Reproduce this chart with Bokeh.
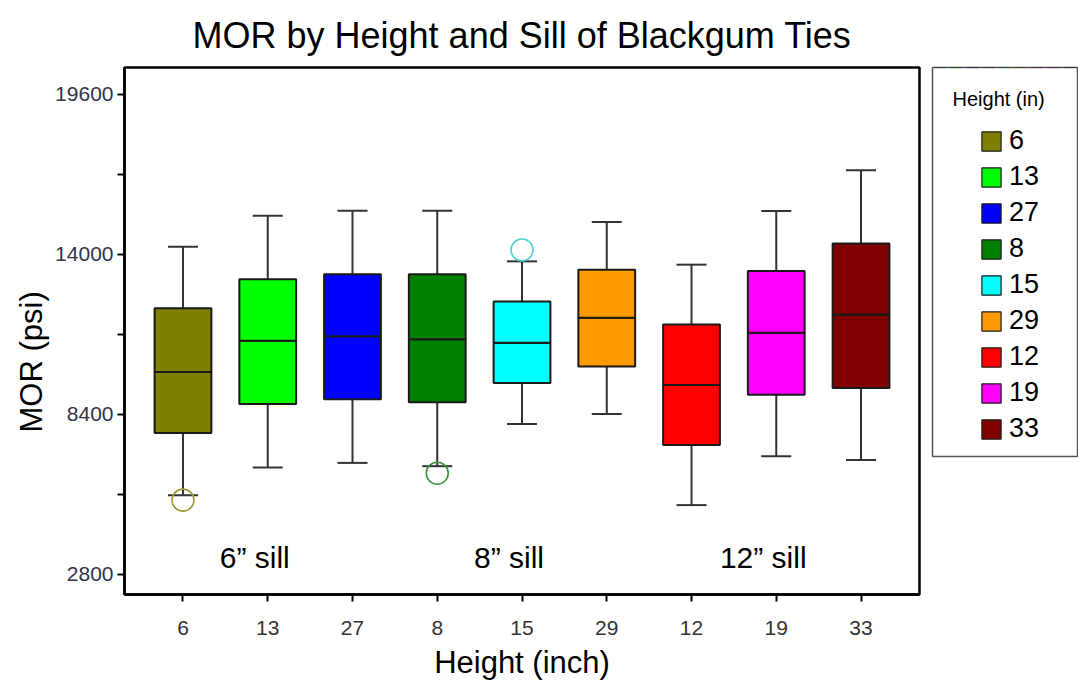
from bokeh.plotting import figure
from bokeh.models import (FactorRange, Range1d, FixedTicker, ColumnDataSource,
                          Legend, LegendItem, Label, LabelSet, Title)
from bokeh.layouts import row
from bokeh.embed import file_html
from bokeh.resources import INLINE
from bokeh.core.properties import value

# ---------------- data ----------------
heights = ["6", "13", "27", "8", "15", "29", "12", "19", "33"]
colors = ["#808000", "#00ff00", "#0000ff", "#008000", "#00ffff",
          "#ff9900", "#ff0000", "#ff00ff", "#800000"]
lower_whisker = [5573, 6540, 6701, 6586, 8062, 8411, 5224, 6935, 6805]
q1 = [7748, 8760, 8925, 8820, 9494, 10076, 7329, 9089, 9319]
median = [9878, 10974, 11134, 11030, 10904, 11777, 9424, 11253, 11892]
q3 = [12112, 13124, 13299, 13299, 12346, 13463, 11543, 13417, 14381]
upper_whisker = [14266, 15348, 15523, 15523, 13753, 15128, 13637, 15512, 16943]

outlier_height = ["6", "8", "15"]
outlier_mor = [5399, 6341, 14151]
outlier_colors = ["#a09a3a", "#3c963c", "#48d2d2"]

sill_centers = ["13", "15", "19"]
sill_labels = ["6\u201d sill", "8\u201d sill", "12\u201d sill"]

y_ticks = [2800, 8400, 14000, 19600]
y_minor_ticks = [5600, 11200, 16800]

FONT = "Liberation Sans"

# ---------------- main figure ----------------
p = figure(width=924, height=685,
           x_range=FactorRange(factors=heights, range_padding=0.19,
                               range_padding_units="absolute"),
           y_range=Range1d(2096, 20536),
           output_backend="svg", toolbar_location=None,
           min_border_left=124, min_border_right=5,
           min_border_top=66, min_border_bottom=91,
           title="MOR by Height and Sill of Blackgum Ties")

p.title.text_font = FONT
p.title.text_font_size = "36px"
p.title.text_font_style = "normal"
p.title.text_color = "black"
p.title.align = "center"
p.title.standoff = 24

p.grid.visible = False
p.outline_line_color = "black"
p.outline_line_width = 2.5
p.outline_line_alpha = 1.0
p.background_fill_color = "white"
p.border_fill_color = "white"

src = ColumnDataSource(dict(height=heights, color=colors, lower=lower_whisker,
                            q1=q1, median=median, q3=q3, upper=upper_whisker))

# whiskers
p.segment(x0="height", y0="q3", x1="height", y1="upper", source=src,
          line_color="#333333", line_width=2)
p.segment(x0="height", y0="q1", x1="height", y1="lower", source=src,
          line_color="#333333", line_width=2)
# caps
p.scatter(x="height", y="upper", source=src, marker="dash", size=30,
          line_color="#333333", line_width=2)
p.scatter(x="height", y="lower", source=src, marker="dash", size=30,
          line_color="#333333", line_width=2)
# boxes (lower and upper halves -> median line)
p.vbar(x="height", bottom="q1", top="median", width=0.67, source=src,
       fill_color="color", line_color="#1a1a1a", line_width=2)
p.vbar(x="height", bottom="median", top="q3", width=0.67, source=src,
       fill_color="color", line_color="#1a1a1a", line_width=2)

# outliers
osrc = ColumnDataSource(dict(x=outlier_height, y=outlier_mor, c=outlier_colors))
p.scatter(x="x", y="y", source=osrc, marker="circle", size=22,
          fill_color=None, line_color="c", line_width=1.6)

# sill labels
ssrc = ColumnDataSource(dict(x=sill_centers, text=sill_labels))
p.add_layout(LabelSet(x="x", y=37, y_units="screen", text="text", source=ssrc,
                      x_offset=-13, text_align="center", text_baseline="middle",
                      text_font=value(FONT), text_font_size="30px",
                      text_color="black"))

# axes
xa = p.xaxis[0]
xa.axis_label = "Height (inch)"
xa.axis_label_text_font = FONT
xa.axis_label_text_font_size = "31px"
xa.axis_label_text_font_style = "normal"
xa.axis_label_text_color = "black"
xa.axis_label_standoff = 7
xa.major_label_text_font = FONT
xa.major_label_text_font_size = "21px"
xa.major_label_text_color = "#333333"
xa.major_label_standoff = 19
xa.major_tick_in = 0
xa.major_tick_out = 7
xa.major_tick_line_width = 2
xa.axis_line_width = 2.5
xa.axis_line_color = "black"

ya = p.yaxis[0]
ya.ticker = FixedTicker(ticks=y_ticks, minor_ticks=y_minor_ticks)
ya.major_label_text_font = FONT
ya.major_label_text_font_size = "21px"
ya.major_label_text_color = "#333344"
ya.major_label_standoff = 4
ya.major_tick_in = 0
ya.major_tick_out = 7
ya.minor_tick_in = 0
ya.minor_tick_out = 7
ya.major_tick_line_width = 2
ya.minor_tick_line_width = 2
ya.axis_line_width = 2.5
ya.axis_line_color = "black"

# y-axis title, set a little below the frame centre as in the reference
p.add_layout(Title(text="MOR (psi)", align="left", offset=162, standoff=8,
                   text_font=FONT, text_font_size="31px",
                   text_font_style="normal", text_color="black"), "left")

# ---------------- legend panel ----------------
lg = figure(width=154, height=547,
            x_range=FactorRange(factors=heights), y_range=Range1d(0, 1),
            output_backend="svg", toolbar_location=None,
            min_border_left=8, min_border_right=1,
            min_border_top=66, min_border_bottom=91,
            x_axis_location=None, y_axis_location=None)
lg.grid.visible = False
lg.outline_line_color = "#555555"
lg.outline_line_width = 1.5
lg.outline_line_alpha = 1.0

# legend swatches come from the same box data (boxes lie outside this view)
swatch = lg.vbar(x="height", bottom="q1", top="q3", width=0.67, source=src,
                 fill_color="color", line_color="#1a1a1a", line_width=1.2)
items = [LegendItem(label=h, renderers=[swatch], index=i)
         for i, h in enumerate(heights)]

legend = Legend(items=items, location=(47, 12), padding=0, margin=0,
                spacing=5, glyph_width=24, glyph_height=24, label_height=31,
                label_standoff=6,
                label_text_font=FONT, label_text_font_size="27px",
                label_text_color="black",
                border_line_alpha=0, background_fill_alpha=0)
lg.add_layout(legend)

lg.add_layout(Label(x=20, y=358, x_units="screen", y_units="screen",
                    text="Height (in)", text_align="left", text_baseline="middle",
                    text_font=FONT, text_font_size="20px", text_color="black"))

layout = row(p, lg)
open("out.html", "w").write(file_html(layout, INLINE))
